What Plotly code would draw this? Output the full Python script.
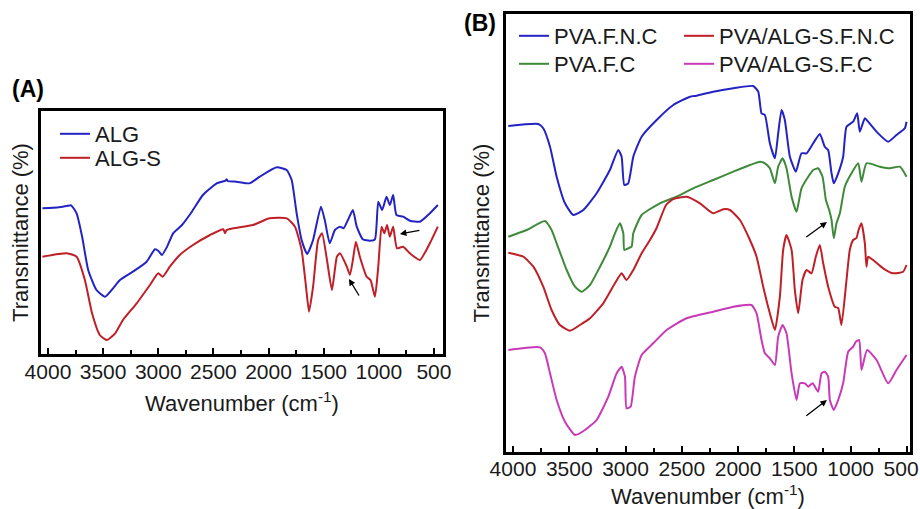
import plotly.graph_objects as go

# ---------------- Panel A data (arbitrary transmittance units) ----------------
alg_wn = [4050, 3900, 3830, 3790, 3740, 3690, 3635, 3560, 3483, 3410, 3347, 3230, 3105, 3030, 3000,
          2967, 2920, 2865, 2785, 2695, 2595, 2470, 2390, 2380, 2370, 2290, 2170, 2080, 1925, 1835,
          1790, 1745, 1700, 1650, 1596, 1525, 1490, 1445, 1398, 1353, 1320, 1280, 1235, 1200, 1145,
          1080, 1035, 1005, 970, 930, 900, 870, 840, 780, 718, 628, 537, 465]
alg_t = [145.7, 146.7, 148.0, 148.7, 140.7, 117.3, 84.0, 64.0, 57.3, 65.7, 74.0, 82.3, 92.3, 104.7, 103.3,
         99.0, 107.3, 120.7, 129.0, 142.3, 159.0, 170.7, 173.3, 174.7, 173.0, 172.3, 170.7, 177.3, 186.7, 184.0,
         174.0, 140.7, 114.0, 100.0, 114.0, 147.3, 134.0, 110.7, 124.0, 127.3, 125.7, 134.0, 144.0, 127.3, 114.7,
         113.3, 114.7, 152.3, 144.0, 157.3, 149.0, 159.0, 139.0, 137.3, 133.3, 132.3, 140.7, 149.0]

algs_wn = [4050, 3830, 3740, 3665, 3600, 3530, 3467, 3390, 3320, 3195, 3075, 3000, 2960, 2895, 2805,
           2685, 2530, 2410, 2395, 2380, 2320, 2140, 1990, 1835, 1760, 1700, 1660, 1633, 1596, 1550,
           1515, 1470, 1425, 1380, 1353, 1290, 1262, 1235, 1208, 1172, 1110, 1075, 1035, 1005, 975,
           950, 925, 900, 870, 835, 780, 718, 628, 537, 465]
algs_t = [97.3, 100.7, 97.3, 74.0, 40.7, 19.0, 14.0, 20.7, 34.0, 50.7, 69.0, 80.7, 77.3, 87.3, 99.0,
          109.0, 119.0, 124.7, 120.7, 124.0, 125.7, 129.0, 135.7, 135.7, 127.3, 104.0, 67.3, 42.3, 67.3, 114.0,
          120.7, 94.0, 64.0, 97.3, 100.7, 87.3, 79.0, 94.0, 112.3, 97.3, 77.3, 74.0, 57.3, 87.3, 127.3,
          120.7, 129.0, 117.3, 127.3, 105.7, 107.3, 100.7, 94.0, 110.7, 127.3]

# ---------------- Panel B data ----------------
fnc_wn = [4041, 3775, 3731, 3671, 3612, 3538, 3464, 3375, 3257, 3139, 3065, 3035, 3011, 2976, 2931,
          2857, 2724, 2576, 2428, 2369, 2221, 2043, 1866, 1821, 1792, 1762, 1718, 1673, 1644, 1614,
          1585, 1540, 1487, 1437, 1392, 1333, 1274, 1230, 1200, 1170, 1150, 1111, 1067, 1037, 978,
          942, 919, 874, 845, 770, 667, 593, 519, 504]
fnc_t = [326.0, 328.0, 323.7, 305.3, 275.3, 248.7, 237.0, 242.0, 258.7, 282.0, 302.0, 295.3, 267.0, 268.7, 295.3,
         315.3, 332.0, 347.0, 355.3, 356.3, 360.3, 363.7, 366.0, 360.3, 338.7, 337.0, 308.7, 293.7, 318.7, 342.0,
         332.0, 295.3, 280.3, 298.7, 298.7, 308.7, 318.0, 305.3, 302.0, 278.7, 268.7, 278.7, 295.3, 325.3, 330.3,
         338.7, 320.3, 333.7, 330.3, 320.3, 310.3, 317.0, 323.7, 330.3]

fc_wn = [4041, 3879, 3716, 3657, 3612, 3523, 3449, 3390, 3316, 3227, 3139, 3094, 3050, 3020, 3011,
         2976, 2946, 2931, 2857, 2695, 2547, 2399, 2221, 2043, 1895, 1807, 1762, 1718, 1673, 1644,
         1605, 1570, 1525, 1481, 1437, 1377, 1333, 1289, 1250, 1220, 1191, 1170, 1150, 1126, 1096,
         1052, 993, 933, 904, 860, 741, 652, 563, 504]
fc_t = [215.3, 222.0, 231.0, 222.0, 208.7, 182.0, 165.3, 160.3, 167.0, 185.3, 205.3, 218.7, 228.7, 218.7, 202.0,
        203.7, 205.3, 218.7, 237.0, 248.7, 255.3, 263.7, 272.0, 280.3, 287.0, 290.3, 288.7, 283.7, 268.7, 285.3,
        293.7, 283.7, 255.3, 240.3, 263.7, 275.3, 282.0, 283.7, 275.3, 252.0, 242.0, 232.0, 213.7, 228.7, 238.7,
        265.3, 278.7, 288.7, 270.3, 288.7, 285.3, 283.7, 285.3, 275.3]

sfnc_wn = [4041, 3908, 3819, 3731, 3657, 3583, 3494, 3405, 3316, 3198, 3094, 3035, 2991, 2931, 2857,
           2783, 2724, 2640, 2576, 2458, 2339, 2221, 2132, 2073, 1984, 1895, 1836, 1777, 1718, 1673,
           1629, 1600, 1570, 1525, 1496, 1466, 1428, 1392, 1348, 1310, 1274, 1244, 1200, 1141, 1111,
           1082, 1037, 1008, 978, 949, 930, 904, 874, 860, 845, 801, 712, 623, 534, 504]
sfnc_t = [199.3, 195.3, 185.3, 165.3, 142.0, 127.0, 121.3, 127.0, 133.7, 148.7, 168.7, 178.7, 172.0, 182.0, 198.7,
          212.0, 224.0, 247.0, 253.0, 255.3, 248.7, 238.7, 242.7, 242.0, 232.0, 212.0, 195.3, 165.3, 138.7, 122.0,
          155.3, 202.0, 217.0, 202.0, 162.0, 138.7, 172.0, 182.0, 178.7, 195.3, 207.0, 188.7, 165.3, 145.3, 144.0,
          127.0, 172.0, 202.0, 212.0, 214.0, 222.0, 228.7, 208.7, 185.3, 195.3, 192.0, 183.7, 178.7, 180.3, 187.0]

sfc_wn = [4041, 3760, 3716, 3671, 3612, 3538, 3449, 3360, 3257, 3153, 3079, 3035, 3005, 2991, 2955,
          2917, 2857, 2754, 2635, 2458, 2221, 2043, 1881, 1836, 1792, 1762, 1718, 1673, 1644, 1605,
          1570, 1525, 1481, 1451, 1407, 1377, 1339, 1289, 1259, 1230, 1200, 1185, 1150, 1111, 1067,
          1022, 978, 954, 925, 904, 854, 770, 667, 593, 504]
sfc_t = [102.0, 104.7, 98.7, 78.7, 52.0, 30.3, 17.0, 22.0, 32.0, 55.3, 78.7, 85.3, 75.3, 43.7, 45.3,
         75.3, 97.0, 108.7, 122.0, 133.7, 140.3, 145.3, 147.0, 138.7, 112.0, 98.7, 93.7, 87.0, 115.3, 127.0,
         118.7, 78.7, 52.0, 68.7, 68.7, 65.3, 68.7, 60.3, 78.7, 80.3, 75.3, 52.0, 42.0, 52.0, 68.7,
         100.3, 105.3, 110.3, 112.0, 82.0, 102.0, 92.0, 68.7, 82.0, 97.0]

x_ticks = [4000, 3500, 3000, 2500, 2000, 1500, 1000, 500]
x_ticktext_a = ["4000", "3500", "3000", "2500", "2000", "1500", "1000", "500"]
# right-most label of panel B sits slightly left of its tick, as in the reference
x_ticktext_b = ["4000", "3500", "3000", "2500", "2000", "1500", "1000", "500\u00a0\u00a0"]

# arrows: (tail_wn, tail_t, head_wn, head_t)
arrows_a = [(1171, 57, 1271, 75), (618, 124, 809, 120)]
arrows_b = [(1407, 214, 1211, 230), (1407, 35, 1211, 52)]

BLUE = "#2323c4"
RED = "#bf1f26"
GREEN = "#3f8a3a"
MAGENTA = "#c83ab8"
FONT = "Liberation Sans, Arial, sans-serif"
TXT = "#1a1a1a"
W, H = 920, 509

series = [
    ("ALG", alg_wn, alg_t, BLUE, "x", "y", "legend", 55, 113),
    ("ALG-S", algs_wn, algs_t, RED, "x", "y", "legend2", 55, 137),
    ("PVA.F.N.C", fnc_wn, fnc_t, BLUE, "x2", "y2", "legend3", 514, 15),
    ("PVA.F.C", fc_wn, fc_t, GREEN, "x2", "y2", "legend4", 514, 43),
    ("PVA/ALG-S.F.N.C", sfnc_wn, sfnc_t, RED, "x2", "y2", "legend5", 679, 15),
    ("PVA/ALG-S.F.C", sfc_wn, sfc_t, MAGENTA, "x2", "y2", "legend6", 679, 43),
]

fig = go.Figure()
legend_layout = {}
for name, xs, ys, col, xa, ya, lg, lx, ly in series:
    fig.add_trace(go.Scatter(x=xs, y=ys, mode="lines", name=name,
                             line=dict(color=col, width=2, shape="spline", smoothing=0.5),
                             xaxis=xa, yaxis=ya, legend=lg))
    legend_layout[lg] = dict(x=lx / W, y=1 - ly / H, xanchor="left", yanchor="top",
                             bgcolor="rgba(0,0,0,0)", borderwidth=0,
                             font=dict(family=FONT, size=22, color=TXT))

xcommon = dict(showline=True, linecolor="black", linewidth=2.5, mirror=True, automargin=False,
               ticks="inside", ticklen=6, tickwidth=2, tickcolor="black",
               tickvals=x_ticks, ticklabeloverflow="allow",
               minor=dict(ticks="inside", ticklen=4, tickwidth=2, tickcolor="black", dtick=250),
               showgrid=False, zeroline=False,
               tickfont=dict(family=FONT, size=21, color=TXT))
ycommon = dict(showline=True, linecolor="black", linewidth=2.5, mirror=True, automargin=False,
               showticklabels=False, ticks="", showgrid=False, zeroline=False)

title_font = dict(family=FONT, size=22, color=TXT)

fig.update_layout(
    width=W, height=H,
    margin=dict(l=0, r=0, t=0, b=0, autoexpand=False),
    paper_bgcolor="white", plot_bgcolor="white",
    showlegend=True,
    xaxis=dict(domain=[41 / W, 443 / W], range=[4063, 418], anchor="y",
               ticktext=x_ticktext_a, ticklabelstandoff=-3,
               title=dict(text="Wavenumber (cm<sup>-1</sup>)", font=title_font, standoff=14),
               **xcommon),
    yaxis=dict(domain=[1 - 354 / H, 1 - 111 / H], range=[0, 243], anchor="x",
               title=dict(text="Transmittance (%)", font=title_font, standoff=4),
               **ycommon),
    xaxis2=dict(domain=[506 / W, 910 / W], range=[4062, 473], anchor="y2",
                ticktext=x_ticktext_b, ticklabelstandoff=-4,
                title=dict(text="Wavenumber (cm<sup>-1</sup>)", font=title_font, standoff=12),
                **xcommon),
    yaxis2=dict(domain=[1 - 452 / H, 1 - 14 / H], range=[0, 438], anchor="x2",
                title=dict(text="Transmittance (%)", font=title_font, standoff=8),
                **ycommon),
    **legend_layout,
)

for tx, ty, hx, hy in arrows_a:
    fig.add_annotation(x=hx, y=hy, ax=tx, ay=ty, xref="x", yref="y", axref="x", ayref="y",
                       showarrow=True, arrowhead=2, arrowsize=1, arrowwidth=1.3, arrowcolor="black", text="")
for tx, ty, hx, hy in arrows_b:
    fig.add_annotation(x=hx, y=hy, ax=tx, ay=ty, xref="x2", yref="y2", axref="x2", ayref="y2",
                       showarrow=True, arrowhead=2, arrowsize=1, arrowwidth=1.3, arrowcolor="black", text="")

fig.add_annotation(text="<b>(A)</b>", x=28 / W, y=1 - 89 / H, xref="paper", yref="paper",
                   xanchor="center", yanchor="middle",
                   showarrow=False, font=dict(family=FONT, size=23, color="black"))
fig.add_annotation(text="<b>(B)</b>", x=480 / W, y=1 - 23 / H, xref="paper", yref="paper",
                   xanchor="center", yanchor="middle",
                   showarrow=False, font=dict(family=FONT, size=23, color="black"))

fig.write_html("out.html", config={"displayModeBar": False},
               post_script="document.body.style.margin='0px';")
